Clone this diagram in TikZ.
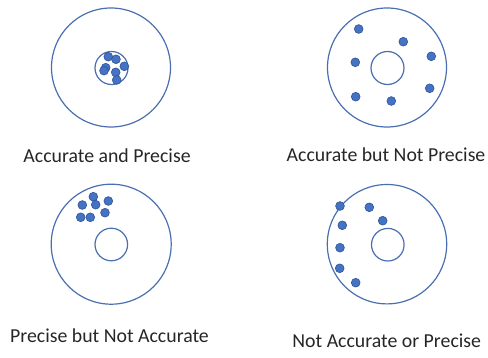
\documentclass[tikz,border=0pt]{standalone}
\usepackage{fontspec}
\setmainfont{Carlito}
\definecolor{ringblue}{HTML}{4A6FB0}
\definecolor{dotblue}{HTML}{4472C4}
\definecolor{dotedge}{HTML}{2F5597}
\tikzset{
  ring/.style={draw=ringblue, line width=0.6pt},
  shot/.style={circle, fill=dotblue, draw=dotedge, line width=0.3pt, inner sep=0pt, minimum size=4.4pt},
  caption/.style={font=\fontsize{9.9}{12}\selectfont, text=black!85}
}
\begin{document}
\begin{tikzpicture}[x=0.5pt, y=-0.5pt]
    \useasboundingbox (0, 0) rectangle (488, 358);

    % accurate and precise
    \draw[ring] (111, 67.5) circle (59.5*0.5pt);
    \draw[ring] (111.5, 68) circle (16.5*0.5pt);
    \foreach \x/\y [count=\i] in {108.3/56.7, 116/59.3, 124.3/66.3, 105.7/67.7, 104/70.7, 115.7/72.3, 116.7/80}
        \node[shot] (ap\i) at (\x, \y) {};
    \node[caption] (apcap) at (107, 156) {Accurate and Precise};

    % accurate but not precise
    \draw[ring] (387, 67.5) circle (59.5*0.5pt);
    \draw[ring] (387.5, 68) circle (16.5*0.5pt);
    \foreach \x/\y [count=\i] in {358.7/29, 403.3/41.7, 431.3/56.3, 355.3/62.3, 429.7/88.3, 355.7/96.7, 391.3/101}
        \node[shot] (anp\i) at (\x, \y) {};
    \node[caption] (anpcap) at (386, 155) {Accurate but Not Precise};

    % precise but not accurate
    \draw[ring] (111.2, 244.2) circle (60*0.5pt);
    \draw[ring] (111.3, 244.5) circle (16.3*0.5pt);
    \foreach \x/\y [count=\i] in {93.3/196.7, 108.3/201, 82.3/205, 95.7/204.7, 105/212.7, 80.7/217.3, 90.3/217.3}
        \node[shot] (pna\i) at (\x, \y) {};
    \node[caption] (pnacap) at (109.5, 336) {Precise but Not Accurate};

    % neither
    \draw[ring] (387, 244.2) circle (59.7*0.5pt);
    \draw[ring] (387.8, 244.7) circle (16.3*0.5pt);
    \foreach \x/\y [count=\i] in {340/206, 369.3/207.3, 342.3/225.3, 382.7/220.7, 340/247.7, 339.7/268.3, 355.7/282.7}
        \node[shot] (nap\i) at (\x, \y) {};
    \node[caption] (napcap) at (386.7, 341) {Not Accurate or Precise};
\end{tikzpicture}
\end{document}
